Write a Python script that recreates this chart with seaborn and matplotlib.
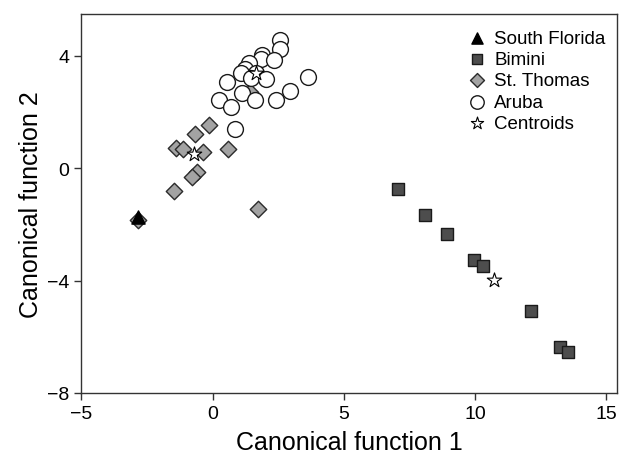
import pandas as pd
import matplotlib
matplotlib.use("Agg")
import matplotlib.pyplot as plt
import seaborn as sns

# Điểm dữ liệu
sfl_x = [-2.83]
sfl_y = [-1.74]

bimini_x = [7.06, 8.09, 8.93, 9.96, 10.30, 12.15, 13.23, 13.55]
bimini_y = [-0.73, -1.66, -2.34, -3.26, -3.47, -5.07, -6.37, -6.56]

thomas_x = [-0.14, -0.67, -1.38, -1.11, -0.37, 0.58, -0.60, -0.79, -1.48, 1.73, -2.83, 1.42]
thomas_y = [1.53, 1.22, 0.71, 0.68, 0.59, 0.68, -0.12, -0.30, -0.80, -1.45, -1.84, 2.73]

aruba_x = [2.58, 2.58, 1.89, 1.83, 2.33, 1.37, 1.22, 1.07, 1.64, 1.48,
           2.05, 3.64, 0.54, 2.94, 1.12, 1.62, 2.41, 0.26, 0.69, 0.84]
aruba_y = [4.57, 4.24, 4.03, 3.88, 3.85, 3.74, 3.54, 3.38, 3.38, 3.20,
           3.19, 3.24, 3.08, 2.75, 2.67, 2.43, 2.43, 2.43, 2.19, 1.39]

centroid_x = [10.73, -0.70, 1.67]
centroid_y = [-3.98, 0.51, 3.38]

sns.set_style("ticks")
plt.rcParams["font.family"] = ["Liberation Sans", "DejaVu Sans"]
plt.rcParams["text.color"] = "black"
plt.rcParams["axes.labelcolor"] = "black"
plt.rcParams["xtick.labelcolor"] = "black"
plt.rcParams["ytick.labelcolor"] = "black"

fig, ax = plt.subplots(figsize=(6.21, 4.64), dpi=100)
fig.subplots_adjust(left=0.131, right=0.993, top=0.968, bottom=0.151)

# Thứ tự vẽ: kim cương -> tròn -> vuông -> tam giác -> sao
sns.scatterplot(x=thomas_x, y=thomas_y, marker="D", s=70, color="#a3a3a3",
                edgecolor="#2a2a2a", linewidth=1.0, ax=ax, label="St. Thomas", zorder=3)
sns.scatterplot(x=aruba_x, y=aruba_y, marker="o", s=130, color="white",
                edgecolor="#1a1a1a", linewidth=1.0, ax=ax, label="Aruba", zorder=4)
sns.scatterplot(x=bimini_x, y=bimini_y, marker="s", s=85, color="#4d4d4d",
                edgecolor="#1a1a1a", linewidth=1.0, ax=ax, label="Bimini", zorder=5)
sns.scatterplot(x=sfl_x, y=sfl_y, marker="^", s=90, color="black",
                edgecolor="black", linewidth=1.0, ax=ax, label="South Florida", zorder=6)
sns.scatterplot(x=centroid_x, y=centroid_y, marker="*", s=120, color="white",
                edgecolor="black", linewidth=0.8, ax=ax, label="Centroids", zorder=7)

ax.set_xlim(-5, 15.4)
ax.set_ylim(-8, 5.5)
ax.set_xticks([-5, 0, 5, 10, 15])
ax.set_yticks([-8, -4, 0, 4])
ax.tick_params(labelsize=14, length=5, width=1, color="#333333", direction="out")
for sp in ax.spines.values():
    sp.set_color("#333333")
    sp.set_linewidth(1.0)

ax.set_xlabel("Canonical function 1", fontsize=18, labelpad=6)
ax.set_ylabel("Canonical function 2", fontsize=18, labelpad=3)

# Sắp xếp lại chú thích
handles, labels = ax.get_legend_handles_labels()
order = ["South Florida", "Bimini", "St. Thomas", "Aruba", "Centroids"]
hmap = dict(zip(labels, handles))
ax.legend([hmap[k] for k in order], order, loc="upper right",
          bbox_to_anchor=(1.009, 1.0), frameon=False,
          fontsize=13.5, handlelength=1.0, handletextpad=0.4, labelspacing=0.22,
          borderaxespad=0.45, markerscale=0.85)

fig.savefig("out.png", dpi=100)
